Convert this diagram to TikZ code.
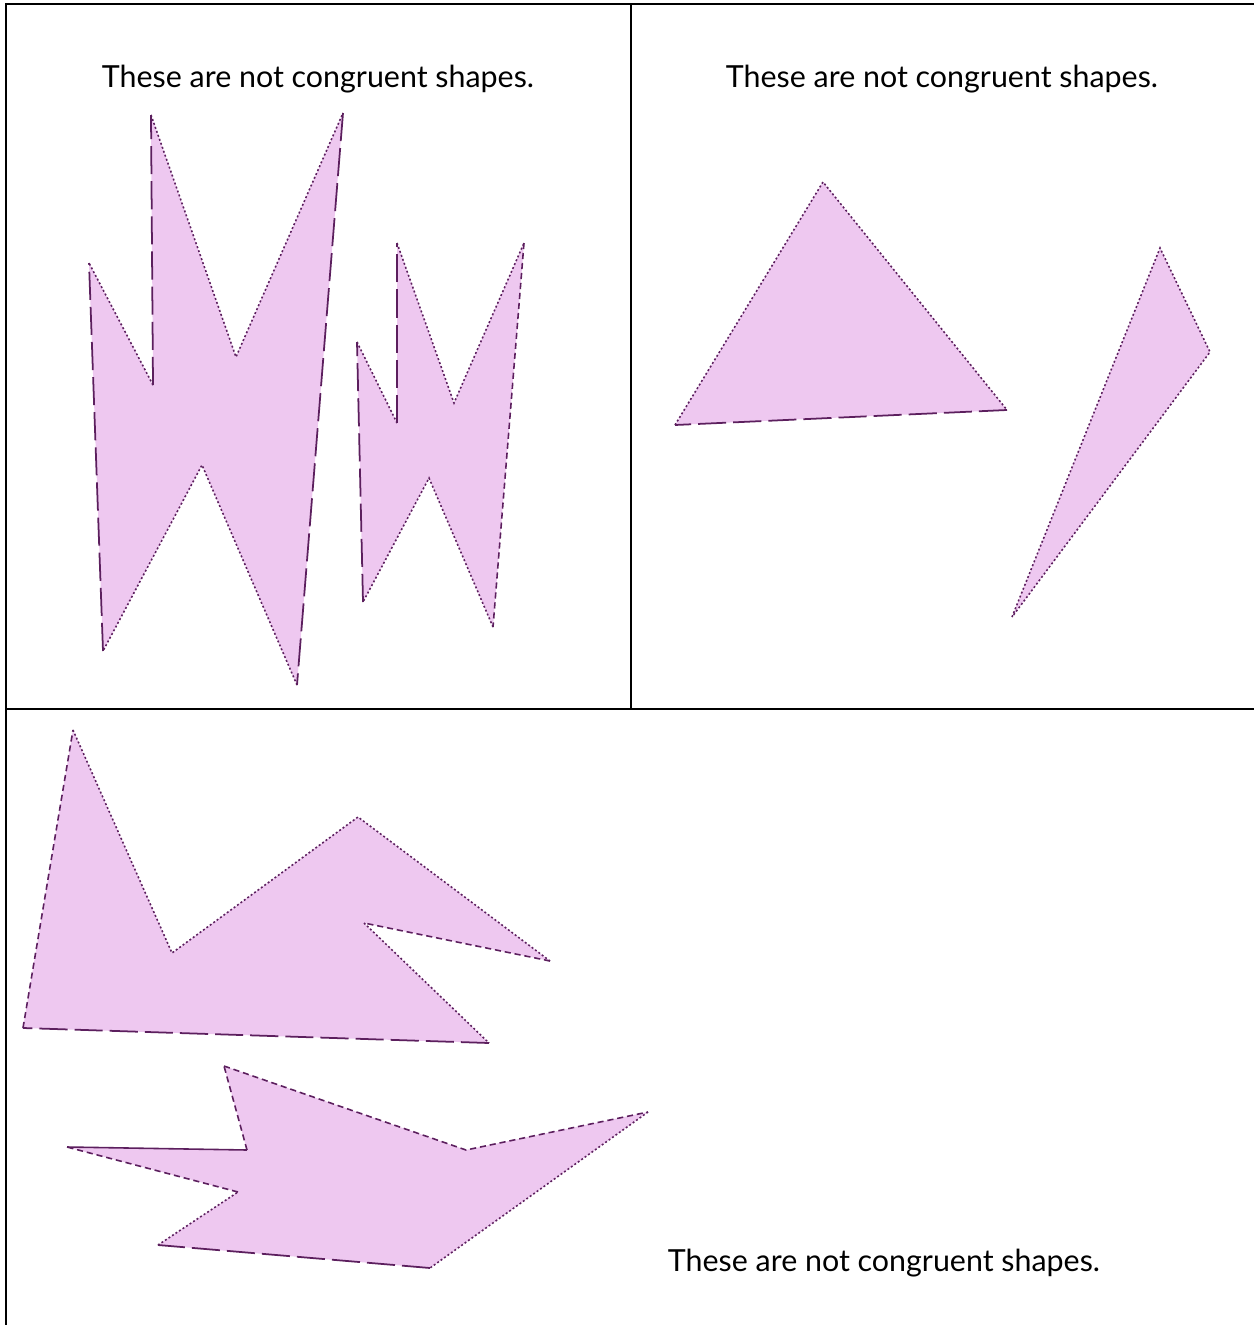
\documentclass[tikz,border=0pt]{standalone}
\usepackage{fontspec}
\setmainfont{Lato}

\begin{document}
\begin{tikzpicture}[x=0.02cm,y=-0.02cm]
  \definecolor{lilac}{HTML}{EEC8F0}
  \definecolor{plum}{HTML}{5C1F5E}
  \path[use as bounding box] (0,0) rectangle (1254,1325);

  \tikzset{caption/.style={font=\fontsize{17.3}{20}\selectfont,text=black,inner sep=1pt},
           grid line/.style={black,line width=1.4pt},
           shade/.style={fill=lilac,draw=none},
           dotline/.style={plum,line width=.9pt,dash pattern=on 1.1pt off 1.3pt},
           dashline/.style={plum,line width=.9pt,dash pattern=on 3.5pt off 2.2pt},
           longline/.style={plum,line width=1pt,dash pattern=on 16pt off 4pt},
           solidline/.style={plum,line width=.9pt}}

  % table frame: right and bottom edges fall outside the crop
  \draw[grid line] (1254,4) -- (6,4) -- (6,1325);
  \draw[grid line] (631,4) -- (631,709);
  \draw[grid line] (6,709) -- (1254,709);

  \node[caption] (capA) at (318,79) {These are not congruent shapes.};
  \node[caption] (capB) at (942,79) {These are not congruent shapes.};
  \node[caption] (capC) at (884,1263) {These are not congruent shapes.};

  % big zigzag, top left
  \fill[shade] (151,115) -- (236,357) -- (343,113) -- (297,685) -- (202,465)
    -- (103,651) -- (89,263) -- (153,385) -- cycle;
  \draw[dotline] (153,385) -- (89,263);
  \draw[dotline] (151,115) -- (236,357) -- (343,113);
  \draw[dotline] (297,685) -- (202,465) -- (103,651);
  \draw[longline] (343,113) -- (297,685);
  \draw[longline] (103,651) -- (89,263);
  \draw[longline] (153,385) -- (151,115);

  % small zigzag, top left
  \fill[shade] (397,243) -- (454,403) -- (524,243) -- (493,627) -- (429,478)
    -- (363,602) -- (357,342) -- (397,423) -- cycle;
  \draw[dotline] (397,243) -- (454,403) -- (524,243);
  \draw[dotline] (493,627) -- (429,478) -- (363,602);
  \draw[dotline] (357,342) -- (397,423);
  \draw[dashline] (524,243) -- (493,627);
  \draw[longline] (363,602) -- (357,342);
  \draw[longline] (397,423) -- (397,243);

  % triangles, top right
  \fill[shade] (823,182) -- (1007,410) -- (675,425) -- cycle;
  \draw[dotline] (675,425) -- (823,182) -- (1007,410);
  \draw[longline] (1007,410) -- (675,425);
  \fill[shade] (1160,248) -- (1210,352) -- (1012,617) -- cycle;
  \draw[dotline] (1012,617) -- (1160,248) -- (1210,352) -- (1012,617);

  % upper shape, bottom cell
  \fill[shade] (73,730) -- (172,953) -- (358,817) -- (550,961) -- (364,923)
    -- (489,1043) -- (23,1028) -- cycle;
  \draw[dotline] (73,730) -- (172,953) -- (358,817) -- (550,961);
  \draw[dotline] (364,923) -- (489,1043);
  \draw[dashline] (550,961) -- (364,923);
  \draw[dashline] (23,1028) -- (73,730);
  \draw[longline] (489,1043) -- (23,1028);

  % lower shape, bottom cell
  \fill[shade] (224,1066) -- (466,1150) -- (648,1112) -- (430,1268) -- (158,1245)
    -- (238,1192) -- (67,1147) -- (247,1150) -- cycle;
  \draw[dashline] (224,1066) -- (466,1150) -- (648,1112);
  \draw[dotline] (648,1112) -- (430,1268);
  \draw[longline] (430,1268) -- (158,1245);
  \draw[dotline] (158,1245) -- (238,1192);
  \draw[dashline] (238,1192) -- (67,1147);
  \draw[solidline] (67,1147) -- (247,1150);
  \draw[dashline] (247,1150) -- (224,1066);
\end{tikzpicture}
\end{document}
